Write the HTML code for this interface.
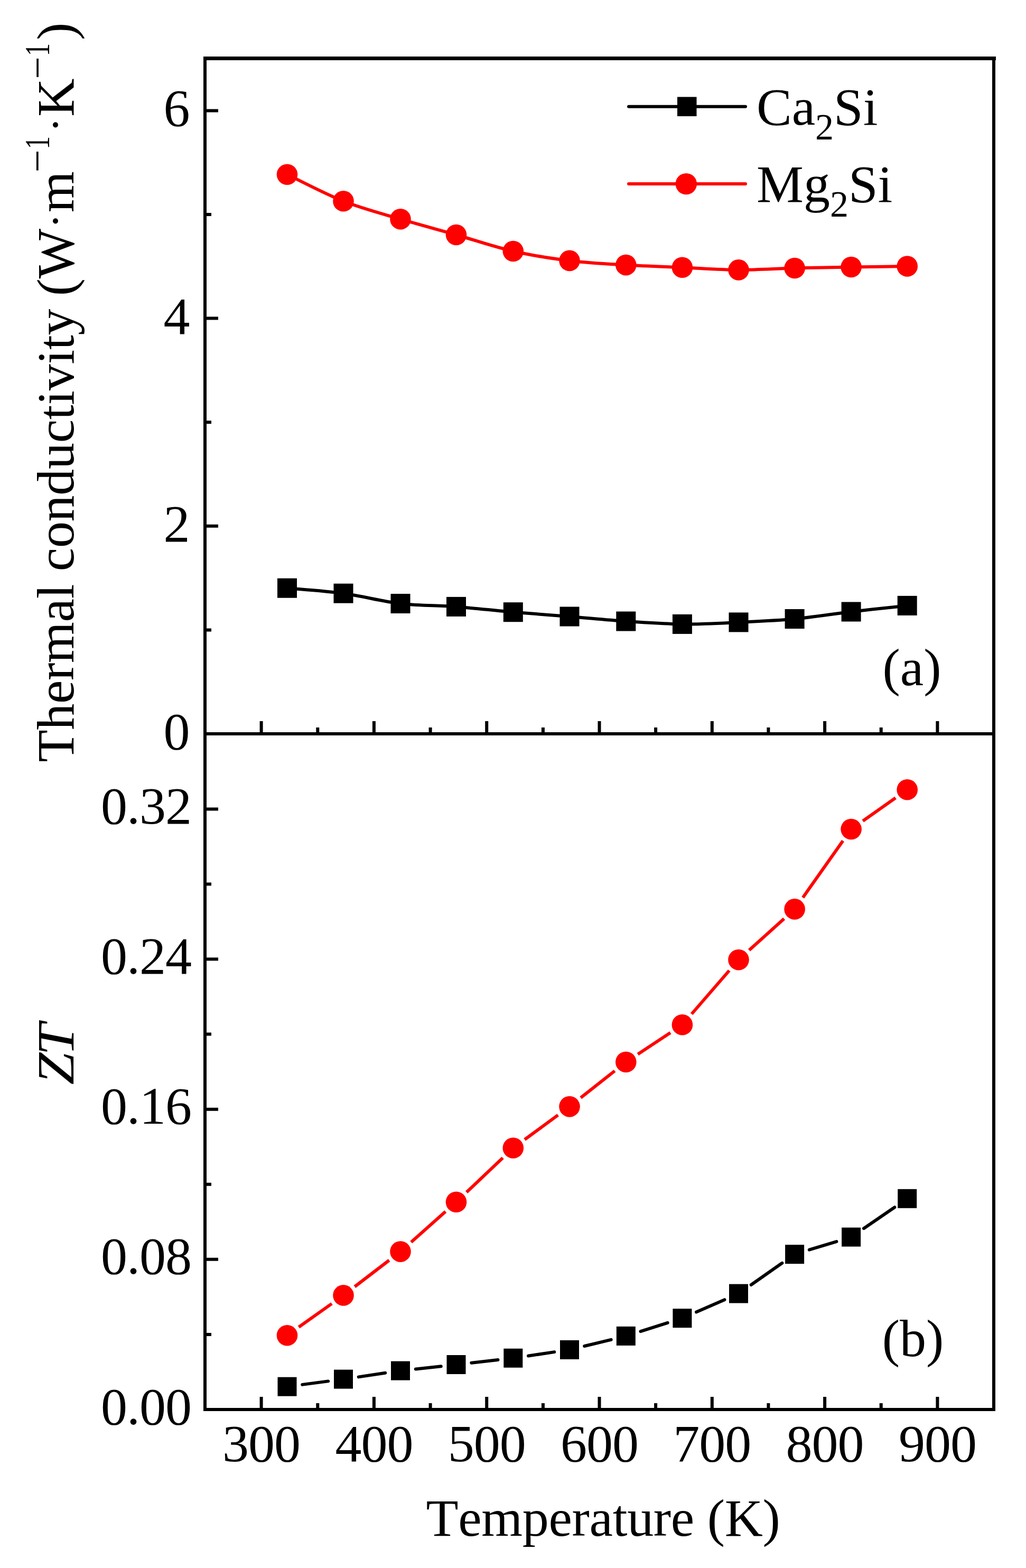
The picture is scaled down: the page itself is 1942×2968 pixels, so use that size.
<!DOCTYPE html>
<html><head><meta charset="utf-8"><title>Thermal conductivity and ZT</title>
<style>html,body{margin:0;padding:0;background:#fff;width:1942px;height:2968px;overflow:hidden;}svg{display:block;font-kerning:none;}</style>
</head><body>
<svg width="1942" height="2968" viewBox="0 0 1942 2968">
<rect width="1942" height="2968" fill="#fff"/>
<path d="M543.5,330.2 C561.2,338.6 614.2,366.7 650,380.8 C685.8,394.9 722.4,404.2 758,414.8 C793.6,425.4 828,434.4 863.5,444.5 C899,454.6 935.5,467.4 971.3,475.5 C1007,483.6 1042.4,489 1078,493.4 C1113.6,497.8 1149.2,499.5 1184.8,501.6 C1220.4,503.8 1255.9,504.8 1291.4,506.3 C1326.9,507.9 1362.5,510.7 1398,510.9 C1433.5,511.1 1468.6,508.4 1504.1,507.5 C1539.6,506.6 1575.6,506.1 1611.1,505.5 C1646.6,504.9 1699.5,504.2 1717.2,504" fill="none" stroke="#f00" stroke-width="6"/>
<path d="M543.5,1113.2 C561.2,1114.9 614.2,1118.3 650,1123.2 C685.8,1128.1 722.4,1138.3 758,1142.5 C793.6,1146.7 828,1145.7 863.5,1148.4 C899,1151.1 935.5,1155.6 971.3,1158.7 C1007,1161.8 1042.4,1164.1 1078,1167 C1113.6,1169.9 1149.2,1173.6 1184.8,1176 C1220.4,1178.4 1255.9,1181.1 1291.4,1181.4 C1326.9,1181.7 1362.5,1179.6 1398,1177.9 C1433.5,1176.2 1468.6,1174.8 1504.1,1171.5 C1539.6,1168.2 1575.6,1162.2 1611.1,1158 C1646.6,1153.8 1699.5,1148.3 1717.2,1146.4" fill="none" stroke="#000" stroke-width="6"/>
<g fill="#f00"><circle cx="543.5" cy="330.2" r="19.8"/><circle cx="650" cy="380.8" r="19.8"/><circle cx="758" cy="414.8" r="19.8"/><circle cx="863.5" cy="444.5" r="19.8"/><circle cx="971.3" cy="475.5" r="19.8"/><circle cx="1078" cy="493.4" r="19.8"/><circle cx="1184.8" cy="501.6" r="19.8"/><circle cx="1291.4" cy="506.3" r="19.8"/><circle cx="1398" cy="510.9" r="19.8"/><circle cx="1504.1" cy="507.5" r="19.8"/><circle cx="1611.1" cy="505.5" r="19.8"/><circle cx="1717.2" cy="504" r="19.8"/></g>
<g fill="#000"><rect x="525" y="1094.7" width="37" height="37"/><rect x="631.5" y="1104.7" width="37" height="37"/><rect x="739.5" y="1124" width="37" height="37"/><rect x="845" y="1129.9" width="37" height="37"/><rect x="952.8" y="1140.2" width="37" height="37"/><rect x="1059.5" y="1148.5" width="37" height="37"/><rect x="1166.3" y="1157.5" width="37" height="37"/><rect x="1272.9" y="1162.9" width="37" height="37"/><rect x="1379.5" y="1159.4" width="37" height="37"/><rect x="1485.6" y="1153" width="37" height="37"/><rect x="1592.6" y="1139.5" width="37" height="37"/><rect x="1698.7" y="1127.9" width="37" height="37"/></g>
<path d="M565.5,2512 L628,2467.6 M671.4,2435.5 L736.6,2385.5 M778.2,2351.2 L843.3,2293.2 M883.1,2256.7 L951.7,2191.6 M993.1,2157 L1056.2,2110.6 M1099.2,2077.9 L1163.6,2027 M1207.3,1995.4 L1268.9,1954.7 M1309.1,1919.4 L1380.3,1837.1 M1418,1798.6 L1484.1,1739 M1519.7,1698.9 L1595.5,1591.5 M1633.2,1554 L1695.1,1510.3" fill="none" stroke="#f00" stroke-width="6"/>
<path d="M572.2,2620.9 L621.3,2614.4 M678.7,2606.4 L729.3,2598.8 M786.8,2591.4 L834.7,2586.2 M892.3,2579.7 L942.5,2574 M1000,2566.5 L1049.3,2559.1 M1106.2,2548 L1156.6,2535.8 M1212.5,2520.2 L1263.7,2503.9 M1318,2483.6 L1371.4,2460.2 M1421.7,2432 L1480.4,2390.8 M1531.8,2365.7 L1583.4,2350.1 M1635,2325.2 L1693.3,2285.2" fill="none" stroke="#000" stroke-width="6" stroke-linecap="round"/>
<g fill="#f00"><circle cx="543.5" cy="2527.7" r="19.8"/><circle cx="650" cy="2451.9" r="19.8"/><circle cx="758" cy="2369.1" r="19.8"/><circle cx="863.5" cy="2275.3" r="19.8"/><circle cx="971.3" cy="2173" r="19.8"/><circle cx="1078" cy="2094.6" r="19.8"/><circle cx="1184.8" cy="2010.3" r="19.8"/><circle cx="1291.4" cy="1939.8" r="19.8"/><circle cx="1398" cy="1816.7" r="19.8"/><circle cx="1504.1" cy="1720.9" r="19.8"/><circle cx="1611.1" cy="1569.5" r="19.8"/><circle cx="1717.2" cy="1494.8" r="19.8"/></g>
<g fill="#000"><rect x="525.5" y="2606.7" width="36" height="36"/><rect x="632" y="2592.6" width="36" height="36"/><rect x="740" y="2576.6" width="36" height="36"/><rect x="845.5" y="2565" width="36" height="36"/><rect x="953.3" y="2552.7" width="36" height="36"/><rect x="1060" y="2536.9" width="36" height="36"/><rect x="1166.8" y="2510.9" width="36" height="36"/><rect x="1273.4" y="2477.2" width="36" height="36"/><rect x="1380" y="2430.6" width="36" height="36"/><rect x="1486.1" y="2356.2" width="36" height="36"/><rect x="1593.1" y="2323.6" width="36" height="36"/><rect x="1699.2" y="2250.8" width="36" height="36"/></g>
<path d="M1190,201.7 H1411" stroke="#000" stroke-width="6" stroke-linecap="round"/>
<rect x="1282" y="183.5" width="36.5" height="36.5" fill="#000"/>
<path d="M1190,348.1 H1411" stroke="#f00" stroke-width="6" stroke-linecap="round"/>
<circle cx="1298.8" cy="348.1" r="20.2" fill="#f00"/>
<g fill="none" stroke="#000" stroke-width="6">
<path d="M388,110.5 H1881 V2668 H388 Z" stroke-linejoin="miter"/>
<path d="M388,1389 H1881"/>
<path d="M385,110.5 H1885" stroke-width="7"/>
<path d="M494.6,1389 V1365 M494.6,2668 V2644 M707.9,1389 V1365 M707.9,2668 V2644 M921.2,1389 V1365 M921.2,2668 V2644 M1134.5,1389 V1365 M1134.5,2668 V2644 M1347.8,1389 V1365 M1347.8,2668 V2644 M1561.1,1389 V1365 M1561.1,2668 V2644 M1774.4,1389 V1365 M1774.4,2668 V2644 M601.3,1389 V1377 M601.3,2668 V2656 M814.6,1389 V1377 M814.6,2668 V2656 M1027.9,1389 V1377 M1027.9,2668 V2656 M1241.1,1389 V1377 M1241.1,2668 V2656 M1454.4,1389 V1377 M1454.4,2668 V2656 M1667.7,1389 V1377 M1667.7,2668 V2656 M388,995.8 H413 M388,602.6 H413 M388,209.4 H413 M388,1192.4 H400 M388,799.2 H400 M388,406 H400 M388,2383.8 H413 M388,2099.7 H413 M388,1815.5 H413 M388,1531.4 H413 M388,2525.9 H400 M388,2241.8 H400 M388,1957.6 H400 M388,1673.4 H400"/>
</g>
<g font-family="'Liberation Serif', 'Times New Roman', serif" font-size="100" fill="#000">
<text x="359.5" y="238.4" text-anchor="end">6</text>
<text x="359.5" y="631.6" text-anchor="end">4</text>
<text x="359.5" y="1024.8" text-anchor="end">2</text>
<text x="359.5" y="1418" text-anchor="end">0</text>
<text x="362" y="1558.9" text-anchor="end" letter-spacing="-1">0.32</text>
<text x="362" y="1843" text-anchor="end" letter-spacing="-1">0.24</text>
<text x="362" y="2127.2" text-anchor="end" letter-spacing="-1">0.16</text>
<text x="362" y="2411.3" text-anchor="end" letter-spacing="-1">0.08</text>
<text x="362" y="2695.5" text-anchor="end" letter-spacing="-1">0.00</text>
<text x="494.6" y="2766" text-anchor="middle" letter-spacing="-1">300</text>
<text x="707.9" y="2766" text-anchor="middle" letter-spacing="-1">400</text>
<text x="921.2" y="2766" text-anchor="middle" letter-spacing="-1">500</text>
<text x="1134.5" y="2766" text-anchor="middle" letter-spacing="-1">600</text>
<text x="1347.8" y="2766" text-anchor="middle" letter-spacing="-1">700</text>
<text x="1561.1" y="2766" text-anchor="middle" letter-spacing="-1">800</text>
<text x="1774.4" y="2766" text-anchor="middle" letter-spacing="-1">900</text>
<text x="1141.5" y="2907" text-anchor="middle" letter-spacing="-0.3">Temperature (K)</text>
<text x="1726" y="1296.5" text-anchor="middle">(a)</text>
<text x="1728" y="2567" text-anchor="middle">(b)</text>
<text x="1432" y="236">Ca<tspan font-size="70" dy="28">2</tspan><tspan dy="-28">Si</tspan></text>
<text x="1432" y="382">Mg<tspan font-size="70" dy="28">2</tspan><tspan dy="-28">Si</tspan></text>
<text transform="translate(139.2,1442.5) rotate(-90)" letter-spacing="-0.3">Thermal conductivity (W</text>
<text transform="translate(132.8,432.4) rotate(-90)" font-size="85">·</text>
<text transform="translate(139.2,401.9) rotate(-90)">m</text>
<text transform="translate(96.3,326.4) rotate(-90)" font-size="76.5">−</text>
<text transform="translate(93.2,282.4) rotate(-90) scale(0.72,1)" font-size="68.6">1</text>
<text transform="translate(132.8,250.6) rotate(-90)" font-size="85">·</text>
<text transform="translate(139.2,220.7) rotate(-90)">K</text>
<text transform="translate(95.6,149.8) rotate(-90)" font-size="75">−</text>
<text transform="translate(92.9,106.2) rotate(-90) scale(0.72,1)" font-size="68">1</text>
<text transform="translate(139.2,76.1) rotate(-90)">)</text>
<text transform="translate(139,1998) rotate(-90) scale(1.09,1)" text-anchor="middle" font-style="italic" letter-spacing="-5">ZT</text>
</g>
</svg>
</body></html>
